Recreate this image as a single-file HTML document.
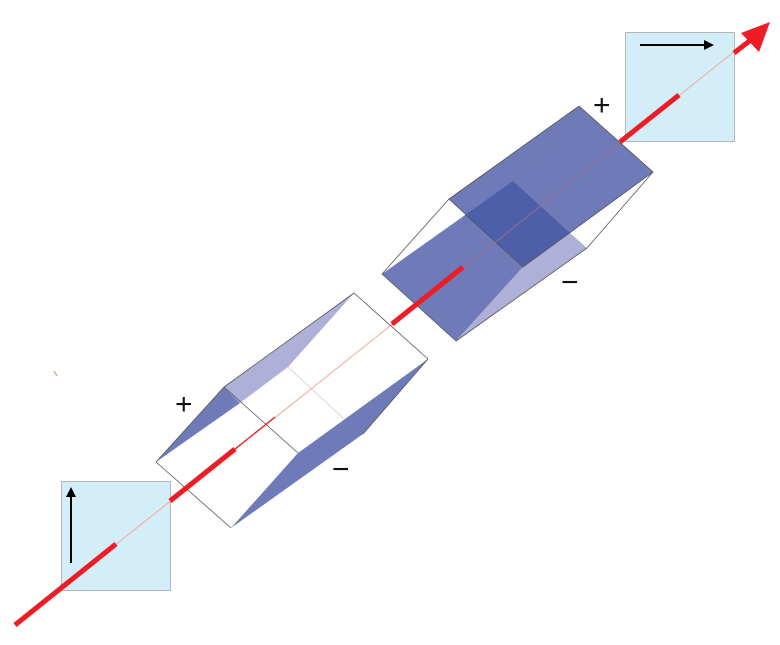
<!DOCTYPE html>
<html><head><meta charset="utf-8"><style>
html,body{margin:0;padding:0;background:#fff;width:780px;height:645px;overflow:hidden}
svg{display:block}
text{font-family:"Liberation Sans",sans-serif;font-size:30px;fill:#111}
</style></head><body>
<svg width="780" height="645" viewBox="0 0 780 645">
<line x1="54" y1="371" x2="57" y2="376" stroke="#f3a0a0" stroke-width="1.5"/>
<rect x="61.5" y="481.5" width="109" height="109" fill="#d4eef9" stroke="#b0b8bc"/>
<rect x="625.5" y="32.5" width="109" height="109" fill="#d4eef9" stroke="#b0b8bc"/>
<line x1="71" y1="563" x2="71" y2="495" stroke="#000" stroke-width="2"/>
<polygon points="71,487 66,497 76,497" fill="#000"/>
<line x1="640" y1="45" x2="706" y2="45" stroke="#000" stroke-width="2"/>
<polygon points="714,45 704,40 704,50" fill="#000"/>
<line x1="15" y1="625" x2="760" y2="31" stroke="#f0a898" stroke-width="1"/>
<polygon points="156,462 224,387 240,403" fill="#6f7ab8"/>
<polygon points="224,387 354,293 288,367 240,403" fill="#aeb0d8"/>
<polygon points="231,528 298,453 428,359 363,434" fill="#6f7ab8"/>
<g stroke="#555" stroke-width="0.8" fill="none">
<line x1="156" y1="462" x2="231" y2="528"/>
<line x1="224" y1="387" x2="298" y2="453"/>
<line x1="354" y1="293" x2="428" y2="359"/>
<line x1="224" y1="387" x2="354" y2="293"/>
<line x1="156" y1="462" x2="224" y2="387"/>
<line x1="428" y1="359" x2="363" y2="434"/>
</g>
<line x1="288" y1="367" x2="344" y2="419" stroke="#ccc" stroke-width="0.8"/>
<polygon points="382,274 513,181 570,233 523,267 456,341" fill="#6f7ab8"/>
<polygon points="523,267 570,233 587,248 456,341" fill="#aeb0d8"/>
<polygon points="449,199 579,106 653,172 523,267" fill="#6f7ab8"/>
<polygon points="465,215 513,181 570,233 523,267" fill="#4e5fa9"/>
<g stroke="#555" stroke-width="0.8" fill="none">
<line x1="449" y1="199" x2="382" y2="274"/>
<line x1="653" y1="172" x2="587" y2="248"/>
<line x1="587" y1="248" x2="456" y2="341"/>
<line x1="382" y1="274" x2="456" y2="341"/>
<polygon points="449,199 579,106 653,172 523,267"/>
<line x1="513" y1="181" x2="579" y2="106" stroke="#777" stroke-width="0.5"/>
</g>
<line x1="392" y1="325" x2="623" y2="140" stroke="#b06a8a" stroke-width="0.8"/>
<g stroke="#ee1c24" stroke-width="5" stroke-linecap="butt">
<line x1="15" y1="625" x2="116" y2="544"/>
<line x1="170" y1="501" x2="235" y2="449"/>
<line x1="392" y1="324" x2="463" y2="267"/>
<line x1="620" y1="142" x2="679" y2="95"/>
<line x1="734" y1="53" x2="752" y2="39"/>
</g>
<line x1="235" y1="449" x2="275" y2="417" stroke="#ee1c24" stroke-width="1.2"/>
<polygon points="770,22 741,33 759,52" fill="#ee1c24"/>
<text x="175" y="414">+</text>
<text x="332" y="479">−</text>
<text x="593" y="115">+</text>
<text x="561" y="292">−</text>
</svg>
</body></html>
